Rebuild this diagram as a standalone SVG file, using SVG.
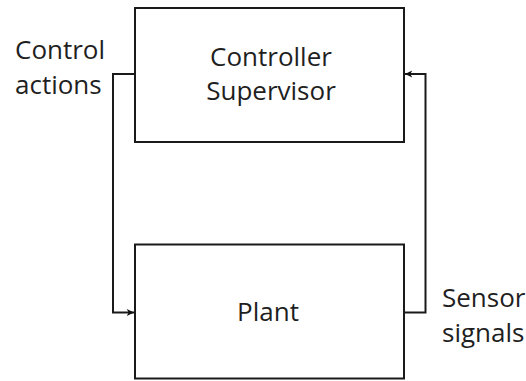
<svg xmlns="http://www.w3.org/2000/svg" width="526" height="381" viewBox="0 0 526 381">
  <defs>
    <marker id="arr" viewBox="0 0 10 10" refX="9" refY="5" markerWidth="9" markerHeight="9" markerUnits="userSpaceOnUse" orient="auto">
      <path d="M1,1 L9,5 L1,9 L3,5 Z" fill="#111"/>
    </marker>
  </defs>
  <style>
    .box { fill: #fff; stroke: #1a1a1a; stroke-width: 2; }
    .conn { fill: none; stroke: #1a1a1a; stroke-width: 2; }
    .t { font-family: "Open Sans", "Noto Sans", sans-serif; font-size: 26px; fill: #1f1f1f; }
  </style>
  <rect width="526" height="381" fill="#fff"/>
  <g id="controller">
    <rect class="box" x="135" y="8" width="269" height="134"/>
    <text class="t" x="271" y="66" text-anchor="middle">Controller</text>
    <text class="t" x="271" y="100" text-anchor="middle">Supervisor</text>
  </g>
  <g id="plant">
    <rect class="box" x="135" y="244.5" width="269" height="134"/>
    <text class="t" x="268" y="321" text-anchor="middle">Plant</text>
  </g>
  <g id="connectors">
    <path class="conn" d="M135,74 H113 V312.5 H134" marker-end="url(#arr)"/>
    <path class="conn" d="M404,312.5 H425.5 V74 H405" marker-end="url(#arr)"/>
  </g>
  <g id="labels">
    <text class="t" x="15" y="58.5">Control</text>
    <text class="t" x="15" y="93.5">actions</text>
    <text class="t" x="442" y="306.5">Sensor</text>
    <text class="t" x="442" y="342">signals</text>
  </g>
</svg>
